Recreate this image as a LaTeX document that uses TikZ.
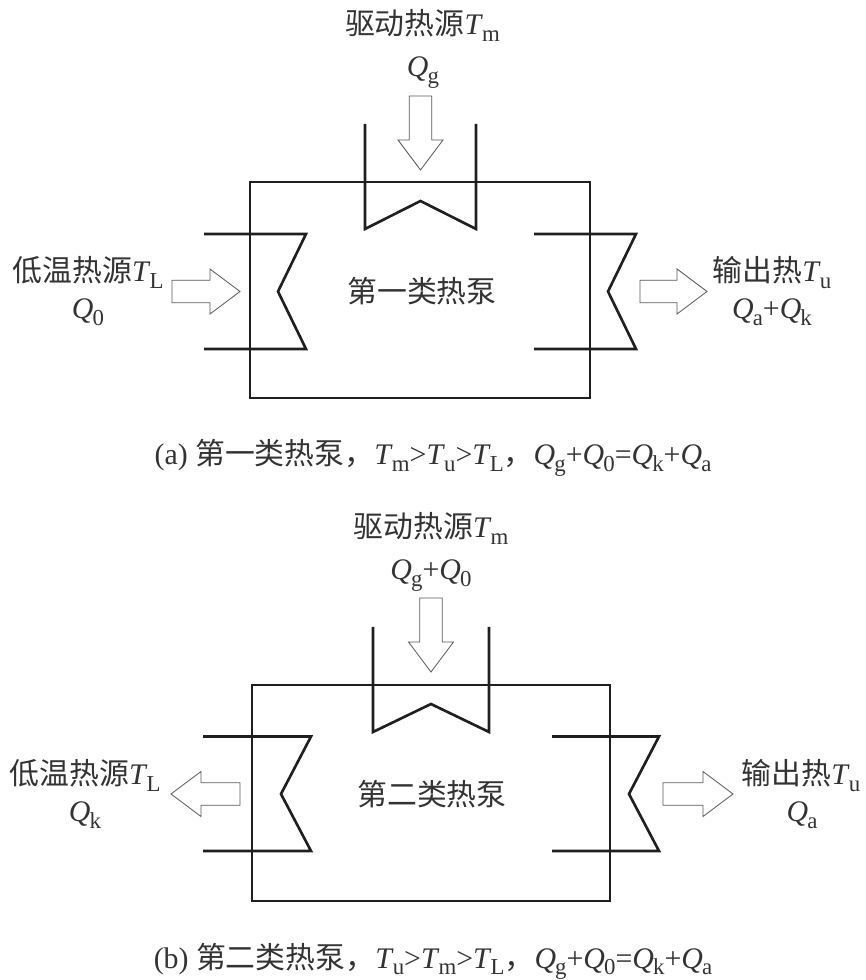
\documentclass[tikz,border=0pt]{standalone}
\usepackage{fontspec}
\setmainfont{Liberation Serif}
\newfontfamily\cjk{Noto Sans CJK SC}
\usepackage{tikz}
\newcommand\subx[1]{\raisebox{-3.5pt}{\fontsize{13}{13}\selectfont #1}}
\newcommand\symb[2]{\textit{#1}\kern-0.5pt\subx{#2}}
\def\heatarrow(#1)(#2)(#3){\draw[arrowline, shift={(#1)}, rotate=#2] (0,-0.225) -- (#3,-0.225) -- (#3,-0.45) -- ({#3+0.6},0) -- (#3,0.45) -- (#3,0.225) -- (0,0.225) -- cycle;}

\begin{document}
\begin{tikzpicture}[
		pipe/.style={line width=1.5pt, draw=black!88},
		arrowline/.style={draw=black!65, line width=0.5pt, fill=white},
		lbl/.style={font=\fontsize{17}{20}\selectfont, text=black!80, inner sep=0pt, anchor=base}]
			\useasboundingbox (0,0) rectangle (17.32,19.6);
			%%%%% (a) %%%%%
			\draw[pipe] (5.00,11.64) rectangle (11.80,15.96);
			\draw[pipe] (7.30,17.12) -- (7.30,15.02) -- (8.41,15.58) -- (9.52,15.02) -- (9.52,17.12);
			\draw[pipe] (4.08,14.92) -- (6.12,14.92) -- (5.56,13.77) -- (6.12,12.62) -- (4.08,12.62);
			\draw[pipe] (10.68,14.92) -- (12.72,14.92) -- (12.16,13.77) -- (12.72,12.62) -- (10.68,12.62);
			
			\heatarrow(8.41,17.68)(-90)(0.88)
			\heatarrow(3.44,13.77)(0)(0.76)
			\heatarrow(12.80,13.77)(0)(0.74)
			
			\node[lbl] (drvA) at (8.45,18.90) {{\cjk 驱动热源}\symb{T}{m}};
			\node[lbl] (qgA) at (8.46,18.06) {\symb{Q}{g}};
			\node[lbl] (lowA) at (1.76,13.96) {{\cjk 低温热源}\symb{T}{L}};
			\node[lbl] (qzA) at (1.76,13.22) {\symb{Q}{0}};
			\node[lbl] (outA) at (15.44,13.96) {{\cjk 输出热}\symb{T}{u}};
			\node[lbl] (qakA) at (15.44,13.22) {\symb{Q}{a}+\symb{Q}{k}};
			\node[lbl] (pumpA) at (8.44,13.54) {\cjk 第一类热泵};
			\node[lbl] (capA) at (8.66,10.30) {(a) {\cjk 第一类热泵，}\symb{T}{m}>\symb{T}{u}>\symb{T}{L}{\cjk ，}\symb{Q}{g}+\symb{Q}{0}=\symb{Q}{k}+\symb{Q}{a}};
			
			%%%%% (b) %%%%%
			\draw[pipe] (5.04,1.58) rectangle (12.20,5.90);
			\draw[pipe] (7.46,7.06) -- (7.46,4.96) -- (8.62,5.52) -- (9.78,4.96) -- (9.78,7.06);
			\draw[pipe] (4.06,4.87) -- (6.22,4.87) -- (5.62,3.72) -- (6.22,2.58) -- (4.06,2.58);
			\draw[pipe] (11.04,4.87) -- (13.18,4.87) -- (12.58,3.72) -- (13.18,2.58) -- (11.04,2.58);
			
			\heatarrow(8.62,7.64)(-90)(0.88)
			\heatarrow(4.80,3.72)(180)(0.78)
			\heatarrow(13.26,3.72)(0)(0.80)
			
			\node[lbl] (drvB) at (8.62,8.84) {{\cjk 驱动热源}\symb{T}{m}};
			\node[lbl] (qgB) at (8.62,8.00) {\symb{Q}{g}+\symb{Q}{0}};
			\node[lbl] (lowB) at (1.70,3.90) {{\cjk 低温热源}\symb{T}{L}};
			\node[lbl] (qkB) at (1.70,3.16) {\symb{Q}{k}};
			\node[lbl] (outB) at (16.02,3.90) {{\cjk 输出热}\symb{T}{u}};
			\node[lbl] (qaB) at (16.04,3.16) {\symb{Q}{a}};
			\node[lbl] (pumpB) at (8.64,3.48) {\cjk 第二类热泵};
			\node[lbl] (capB) at (8.66,0.24) {(b) {\cjk 第二类热泵，}\symb{T}{u}>\symb{T}{m}>\symb{T}{L}{\cjk ，}\symb{Q}{g}+\symb{Q}{0}=\symb{Q}{k}+\symb{Q}{a}};
		\end{tikzpicture}
\end{document}
